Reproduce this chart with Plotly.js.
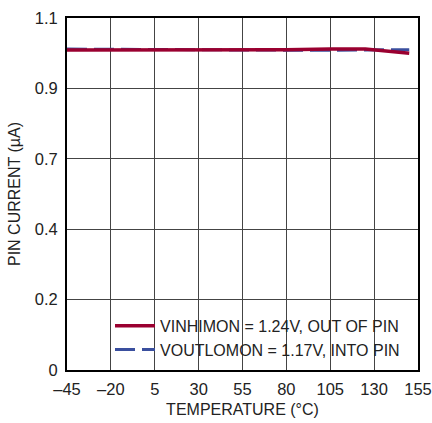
<!DOCTYPE html>
<html><head><meta charset="utf-8">
<script src="https://cdn.plot.ly/plotly-3.0.1.min.js"></script>
<style>body{margin:0;background:#fff}#c{width:432px;height:423px}</style>
</head><body><div id="c"></div>
<script>
const temps = [-45, -20, 5, 30, 55, 80, 105, 125, 150];
const vinhimon = [1.000, 1.000, 1.000, 1.000, 1.000, 1.001, 1.003, 1.003, 0.990];
const voutlomon = [1.003, 1.003, 1.002, 1.001, 1.000, 0.999, 0.999, 1.000, 1.001];
const xTicks = [-45, -20, 5, 30, 55, 80, 105, 130, 155];
const xTickText = ['\u201345', '\u201320', '5', '30', '55', '80', '105', '130', '155'];
const yTicks = [0, 0.22, 0.44, 0.66, 0.88, 1.1];
const yTickText = ['0', '0.2', '0.4', '0.7', '0.9', '1.1'];
const F = 'Liberation Sans, Arial, sans-serif';
const traces = [
  {x: temps, y: voutlomon, mode: 'lines', name: 'VOUTLOMON = 1.17V, INTO PIN',
   line: {color: '#3a4f9e', width: 3, dash: '20px,7px'}},
  {x: temps, y: vinhimon, mode: 'lines', name: 'VINHIMON = 1.24V, OUT OF PIN',
   line: {color: '#9a0030', width: 3.5}}
];
const layout = {
  width: 432, height: 423,
  margin: {l: 67, r: 14, t: 18, b: 53},
  paper_bgcolor: '#fff', plot_bgcolor: '#fff',
  font: {family: F, size: 16, color: '#222'},
  showlegend: true,
  legend: {x: 0.963, y: 0.009, xanchor: 'right', yanchor: 'bottom', traceorder: 'reversed',
           bgcolor: 'rgba(255,255,255,0)', font: {family: F, size: 16, color: '#222'},
           tracegroupgap: 0, itemwidth: 40},
  xaxis: {range: [-45, 155], tickvals: xTicks, ticktext: xTickText, showgrid: true,
          gridcolor: '#444', gridwidth: 1, zeroline: false, showline: true, mirror: true,
          linecolor: '#000', linewidth: 2, ticks: '', ticklen: 0, ticklabelstandoff: 3,
          tickfont: {family: F, size: 16.5, color: '#222'},
          title: {text: 'TEMPERATURE (\u00B0C)', font: {family: F, size: 16, color: '#222'}, standoff: 7}},
  yaxis: {range: [0, 1.1], tickvals: yTicks, ticktext: yTickText, showgrid: true,
          gridcolor: '#444', gridwidth: 1, zeroline: false, showline: true, mirror: true,
          linecolor: '#000', linewidth: 2, ticks: '', ticklen: 0, ticklabelstandoff: 4,
          tickfont: {family: F, size: 16.5, color: '#222'},
          title: {text: 'PIN CURRENT (\u00B5A)', font: {family: F, size: 16, color: '#222'}, standoff: 10}}
};
Plotly.newPlot('c', traces, layout, {displayModeBar: false, staticPlot: true});
</script></body></html>
